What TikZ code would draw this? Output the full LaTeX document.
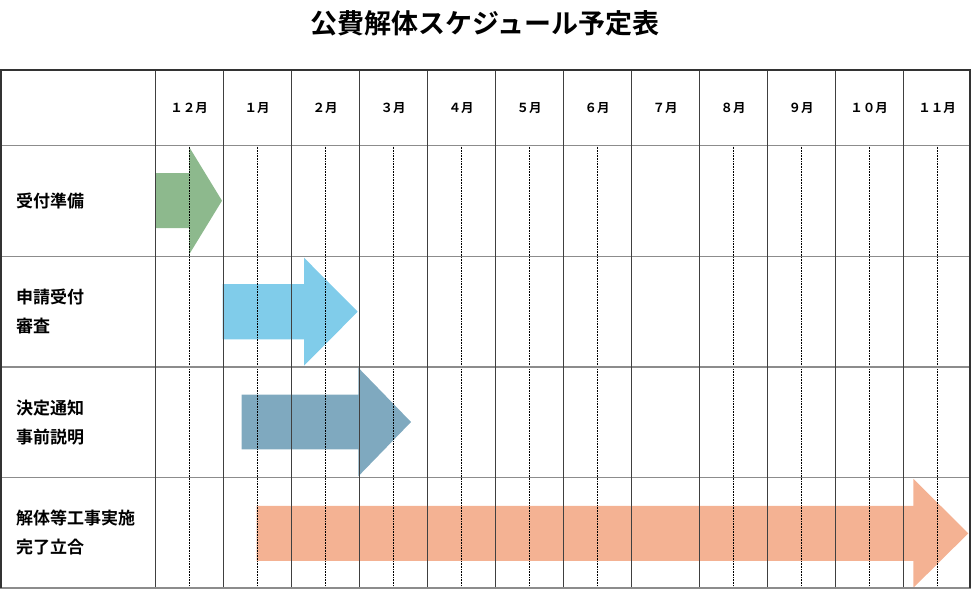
\documentclass[tikz,border=0pt]{standalone}
\usepackage{fontspec}
\setmainfont{Noto Sans CJK JP}[BoldFont={Noto Sans CJK JP Bold}]
\definecolor{prepgreen}{RGB}{141,185,141}
\definecolor{reviewblue}{RGB}{128,204,234}
\definecolor{noticeblue}{RGB}{127,169,191}
\definecolor{worksalmon}{RGB}{244,178,147}
% arrow: colour, start x, head base x, tip x, centre y, body half, head half
\newcommand\taskarrow[7]{\fill[#1] (#2,#5-#6) -- (#3,#5-#6) -- (#3,#5-#7) -- (#4,#5)
	-- (#3,#5+#7) -- (#3,#5+#6) -- (#2,#5+#6) -- cycle;}
\begin{document}
\begin{tikzpicture}[x=1pt,y=-1pt, every node/.style={inner sep=0pt},
	month/.style={font=\bfseries\fontsize{12.5}{14}\selectfont},
	task/.style={anchor=west, align=left, font=\bfseries\fontsize{17}{29}\selectfont},
	colline/.style={line width=1pt, black!75},
	rowline/.style={line width=1.3pt, black!45},
	halfline/.style={densely dotted, line width=0.6pt},
	frame/.style={line width=1.6pt, black!80}]
\useasboundingbox (0,0) rectangle (971,590);
\node (title) at (485,23) {\bfseries\fontsize{27}{30}\selectfont 公費解体スケジュール予定表};
% bars
\taskarrow{prepgreen}{155}{189}{222}{200.7}{27.5}{54}
\taskarrow{reviewblue}{222.7}{304}{357.7}{311.7}{27.7}{54}
\taskarrow{noticeblue}{241.7}{358.3}{411}{422}{27.3}{54.3}
\taskarrow{worksalmon}{256.7}{913.3}{968.3}{533.3}{27.5}{54.5}
% grid
\foreach \k in {0,...,11}{
	\ifnum\k=7\else\draw[halfline] (189+68*\k,145) -- (189+68*\k,588);\fi}
\foreach \y in {145.5,256.5,367,477.5}
	\draw[rowline] (0,\y) -- (971,\y);
\foreach \k in {0,...,11}
	\draw[colline] (155+68*\k,70) -- (155+68*\k,588);
\draw[rowline] (0,588) -- (971,588);
\draw[frame] (1,588) -- (1,70) -- (970,70) -- (970,588);
% months
\foreach \m [count=\k from 0] in {１２月,１月,２月,３月,４月,５月,６月,７月,８月,９月,１０月,１１月}
	\node[month] (m\k) at (189+68*\k,108) {\m};
% tasks
\node[task] (prep) at (16,201) {受付準備};
\node[task] (review) at (16,311.5) {申請受付\\審査};
\node[task] (notice) at (16,422.5) {決定通知\\事前説明};
\node[task] (works) at (16,532.5) {解体等工事実施\\完了立合};
\end{tikzpicture}
\end{document}
